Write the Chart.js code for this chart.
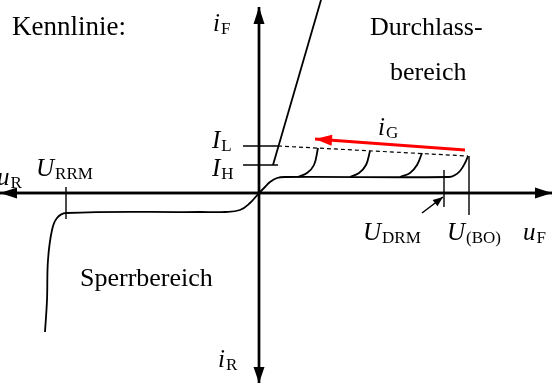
<!DOCTYPE html>
<html>
<head>
<meta charset="utf-8">
<script src="https://cdn.jsdelivr.net/npm/chart.js@4/dist/chart.umd.min.js"></script>
<style>
  html, body { margin: 0; padding: 0; background: #fff; }
</style>
</head>
<body>
<canvas id="kennlinie" width="555" height="385"></canvas>
<script>
// schematic thyristor characteristic, x = u, y = i (arbitrary units)
const uAxis = [[-259, 0], [293, 0]];
const iAxis = [[0, -190], [0, 186]];

const forwardBlocking = [[0, 0], [6, 6], [11, 11], [18, 15], [26, 16], [190, 16], [196, 18], [201, 22], [206, 30], [209, 37]];
const reverseBlocking = [[0, 0], [-9, -10], [-19, -17], [-34, -19], [-60, -19], [-193, -20], [-202, -25], [-207, -37], [-211, -67], [-212, -107], [-214, -139]];
const gateCurve1 = [[39, 16], [48, 20], [55, 28], [59, 45]];
const gateCurve2 = [[91, 16], [100, 20], [107, 28], [111, 42]];
const gateCurve3 = [[141, 16], [151, 20], [158, 28], [163, 40]];
const onState = [[14, 28], [62, 193]];
const latchLevel = [[-16, 47], [19, 47]];
const holdLevel = [[-16, 28], [19, 28]];
const latchToBreakover = [[19, 47], [209, 37]];
const tickURRM = [[-193, 6], [-193, -26]];
const tickUDRM = [[185, 23], [185, -14]];
const tickUBO = [[210, 37], [210, -22]];
const pointerUDRM = [[163, -20], [184, -4]];
const gateArrow = [[206, 43], [56, 54]];

const labels = [
  { at: [-247, 158], main: 'Kennlinie:', size: 27, italic: false },
  { at: [111, 158], main: 'Durchlass-', size: 26, italic: false },
  { at: [131, 113], main: 'bereich', size: 26, italic: false },
  { at: [-179, -93], main: 'Sperrbereich', size: 26, italic: false },
  { at: [-46, 162], main: 'i', sub: 'F' },
  { at: [-47, 45], main: 'I', sub: 'L' },
  { at: [-47, 17], main: 'I', sub: 'H' },
  { at: [-262, 8], main: 'u', sub: 'R' },
  { at: [-223, 17], main: 'U', sub: 'RRM' },
  { at: [119, 58], main: 'i', sub: 'G' },
  { at: [104, -47], main: 'U', sub: 'DRM' },
  { at: [188, -47], main: 'U', sub: '(BO)' },
  { at: [264, -47], main: 'u', sub: 'F' },
  { at: [-41, -174], main: 'i', sub: 'R' },
];

const toPoints = (arr) => arr.map(([x, y]) => ({ x, y }));

function line(data, opts = {}) {
  return Object.assign({
    data: toPoints(data),
    showLine: true,
    borderColor: '#000',
    borderWidth: 1.8,
    pointRadius: 0,
    tension: 0,
    fill: false,
  }, opts);
}

const FONT = '"Liberation Serif", "Times New Roman", serif';

const decorations = {
  id: 'decorations',
  afterDatasetsDraw(chart) {
    const { ctx, scales: { x, y } } = chart;
    // arrow heads
    chart.data.datasets.forEach((ds) => {
      if (!ds.arrow) return;
      const pts = ds.data;
      const a = pts[pts.length - 2], b = pts[pts.length - 1];
      const x1 = x.getPixelForValue(a.x), y1 = y.getPixelForValue(a.y);
      const x2 = x.getPixelForValue(b.x), y2 = y.getPixelForValue(b.y);
      const ang = Math.atan2(y2 - y1, x2 - x1);
      const { len, width } = ds.arrow;
      ctx.save();
      ctx.translate(x2, y2);
      ctx.rotate(ang);
      ctx.fillStyle = ds.borderColor;
      ctx.beginPath();
      ctx.moveTo(0, 0);
      ctx.lineTo(-len, -width / 2);
      ctx.lineTo(-len, width / 2);
      ctx.closePath();
      ctx.fill();
      ctx.restore();
    });
    // text
    ctx.save();
    ctx.fillStyle = '#000';
    ctx.textBaseline = 'alphabetic';
    ctx.textAlign = 'left';
    labels.forEach((l) => {
      let px = x.getPixelForValue(l.at[0]);
      const py = y.getPixelForValue(l.at[1]);
      const italic = l.italic !== false && l.sub !== undefined;
      ctx.font = (italic ? 'italic ' : '') + (l.size || 25) + 'px ' + FONT;
      ctx.fillText(l.main, px, py);
      if (l.sub) {
        px += ctx.measureText(l.main).width + 1;
        ctx.font = '17px ' + FONT;
        ctx.fillText(l.sub, px, py + 3);
      }
    });
    ctx.restore();
  },
};

new Chart(document.getElementById('kennlinie'), {
  type: 'scatter',
  data: {
    datasets: [
      line(uAxis, { borderWidth: 2.4, arrow: { len: 17, width: 11 } }),
      line(uAxis.slice().reverse(), { borderWidth: 2.4, arrow: { len: 17, width: 11 } }),
      line(iAxis, { borderWidth: 2.4, arrow: { len: 17, width: 11 } }),
      line(iAxis.slice().reverse(), { borderWidth: 2.4, arrow: { len: 16, width: 11 } }),
      line(forwardBlocking, { tension: 0.4 }),
      line(reverseBlocking, { tension: 0.4 }),
      line(gateCurve1, { tension: 0.4 }),
      line(gateCurve2, { tension: 0.4 }),
      line(gateCurve3, { tension: 0.4 }),
      line(onState),
      line(latchLevel, { borderWidth: 1.4 }),
      line(holdLevel, { borderWidth: 1.4 }),
      line(latchToBreakover, { borderWidth: 1.2, borderDash: [4, 3] }),
      line(tickURRM, { borderWidth: 1.4 }),
      line(tickUDRM, { borderWidth: 1.4 }),
      line(tickUBO, { borderWidth: 1.4 }),
      line(pointerUDRM, { borderWidth: 1.5, arrow: { len: 10, width: 8 } }),
      line(gateArrow, { borderColor: '#ff0000', borderWidth: 3, arrow: { len: 17, width: 11 } }),
    ],
  },
  options: {
    responsive: false,
    animation: false,
    events: [],
    layout: { padding: 0, autoPadding: false },
    plugins: { legend: { display: false }, tooltip: { enabled: false } },
    scales: {
      x: { type: 'linear', display: false, min: -259, max: 296 },
      y: { type: 'linear', display: false, min: -192, max: 193 },
    },
  },
  plugins: [decorations],
});
</script>
</body>
</html>
